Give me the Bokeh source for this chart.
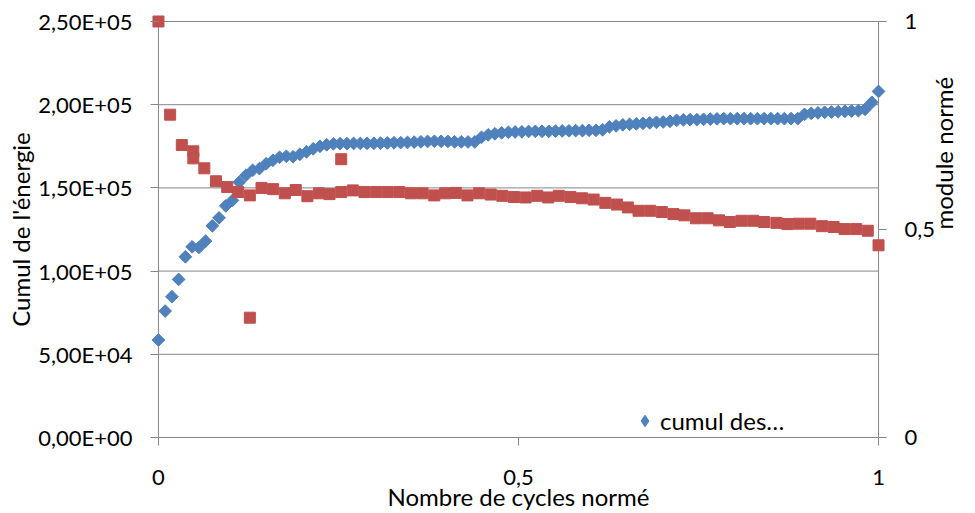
import math
from bokeh.plotting import figure
from bokeh.models import Range1d, LinearAxis, FixedTicker, Legend, LegendItem
from bokeh.embed import file_html
from bokeh.resources import INLINE

# ---------------- data ----------------
left_ticks = [0, 50000, 100000, 150000, 200000, 250000]
left_labels = ["0,00E+00", "5,00E+04", "1,00E+05", "1,50E+05", "2,00E+05", "2,50E+05"]
right_ticks = [0, 0.5, 1]
right_labels = ["0", "0,5", "1"]
x_ticks = [0, 0.5, 1]
x_labels = ["0", "0,5", "1"]

blue_name = "cumul des…"
x_title = "Nombre de cycles normé"
left_title = "Cumul de l'énergie"
right_title = "module normé"

blue_x = [0.0, 0.0093, 0.0187, 0.0280, 0.0374, 0.0467, 0.0561, 0.0654, 0.0748, 0.0841,
          0.0935, 0.1028, 0.1121, 0.1215, 0.1308, 0.1402, 0.1495, 0.1589, 0.1682, 0.1776,
          0.1869, 0.1963, 0.2056, 0.2150, 0.2243, 0.2336, 0.2430, 0.2523, 0.2617, 0.2710,
          0.2804, 0.2897, 0.2991, 0.3084, 0.3178, 0.3271, 0.3364, 0.3458, 0.3551, 0.3645,
          0.3738, 0.3832, 0.3925, 0.4019, 0.4112, 0.4206, 0.4299, 0.4393, 0.4486, 0.4579,
          0.4673, 0.4766, 0.4860, 0.4953, 0.5047, 0.5140, 0.5234, 0.5327, 0.5421, 0.5514,
          0.5607, 0.5701, 0.5794, 0.5888, 0.5981, 0.6075, 0.6168, 0.6262, 0.6355, 0.6449,
          0.6542, 0.6636, 0.6729, 0.6822, 0.6916, 0.7009, 0.7103, 0.7196, 0.7290, 0.7383,
          0.7477, 0.7570, 0.7664, 0.7757, 0.7850, 0.7944, 0.8037, 0.8131, 0.8224, 0.8318,
          0.8411, 0.8505, 0.8598, 0.8692, 0.8785, 0.8879, 0.8972, 0.9065, 0.9159, 0.9252,
          0.9346, 0.9439, 0.9533, 0.9626, 0.9720, 0.9813, 0.9907, 1.0]
blue_y = [58600, 76000, 84600, 95000, 108600, 114600, 114200, 118000, 127200, 132000,
          139200, 142500, 153400, 157600, 160600, 161600, 164500, 166600, 168400, 169000,
          168700, 170200, 171700, 173500, 175000, 175900, 176500, 176600, 176600, 176700,
          176700, 176800, 176800, 176900, 177000, 177100, 177200, 177300, 177500, 177700,
          177900, 178000, 178000, 177900, 177700, 177700, 177600, 177600, 180400, 181900,
          182500, 183100, 183400, 183600, 183700, 183900, 184000, 184000, 184000, 184100,
          184200, 184300, 184400, 184400, 184600, 184600, 184900, 186700, 187300, 187900,
          188200, 188500, 188800, 189100, 189400, 189600, 190000, 190600, 190900, 191000,
          191000, 191200, 191300, 191500, 191600, 191600, 191600, 191600, 191600, 191600,
          191600, 191600, 191600, 191600, 191600, 191600, 194200, 194800, 195100, 195400,
          195600, 195800, 196000, 196200, 196400, 197200, 201400, 208000]

red_x = [0.0, 0.0162, 0.0324, 0.0484, 0.0484, 0.0637, 0.0799, 0.0955, 0.1107, 0.1269,
         0.1269, 0.1431, 0.1592, 0.1754, 0.1906, 0.2068, 0.2228, 0.2376, 0.2538, 0.2538,
         0.2699, 0.2861, 0.3023, 0.3183, 0.3345, 0.3507, 0.3668, 0.3830, 0.3982, 0.4130,
         0.4291, 0.4453, 0.4614, 0.4775, 0.4937, 0.5099, 0.5260, 0.5412, 0.5560, 0.5722,
         0.5882, 0.6044, 0.6206, 0.6367, 0.6519, 0.6667, 0.6829, 0.6990, 0.7152, 0.7304,
         0.7466, 0.7626, 0.7784, 0.7936, 0.8097, 0.8259, 0.8411, 0.8581, 0.8734, 0.8891,
         0.9052, 0.9214, 0.9376, 0.9528, 0.9689, 0.9851, 1.0]
red_y = [1.000, 0.776, 0.703, 0.688, 0.671, 0.647, 0.616, 0.602, 0.590, 0.582,
         0.288, 0.600, 0.597, 0.587, 0.595, 0.580, 0.587, 0.585, 0.669, 0.590,
         0.594, 0.590, 0.590, 0.590, 0.590, 0.587, 0.587, 0.582, 0.587, 0.588,
         0.582, 0.587, 0.584, 0.581, 0.578, 0.577, 0.581, 0.577, 0.581, 0.578,
         0.575, 0.572, 0.564, 0.560, 0.553, 0.545, 0.545, 0.542, 0.537, 0.534,
         0.527, 0.527, 0.522, 0.518, 0.521, 0.521, 0.518, 0.516, 0.513, 0.514,
         0.514, 0.508, 0.506, 0.501, 0.501, 0.497, 0.462]

# ---------------- styling / layout ----------------
FONT = "Lato"
TICK_FS = "22px"
TITLE_FS = "24px"
TXT = "#000000"
GRID = "#868686"
BLUE = "#4F81BD"
RED = "#C0504D"

W, H = 975, 513
BL, BT = 150, 13
FW, FH = 739, 433
BR = W - BL - FW
BB = H - BT - FH
PADPX = 8  # tick marks sit in this padding band

x0, x1 = x_ticks[0], x_ticks[-1]
y0, y1 = left_ticks[0], left_ticks[-1]
r0, r1 = right_ticks[0], right_ticks[-1]
xpad = PADPX * (x1 - x0) / (FW - 2 * PADPX)
ypad = PADPX * (y1 - y0) / (FH - 2 * PADPX)
rpad = PADPX * (r1 - r0) / (FH - 2 * PADPX)

p = figure(width=W, height=H, output_backend="svg", toolbar_location=None,
           x_range=Range1d(x0 - xpad, x1 + xpad),
           y_range=Range1d(y0 - ypad, y1 + ypad),
           min_border_left=BL, min_border_right=BR,
           min_border_top=BT, min_border_bottom=BB)
p.outline_line_color = None
p.xgrid.visible = False
p.ygrid.visible = False
p.background_fill_color = "white"
p.border_fill_color = "white"
p.extra_y_ranges = {"mod": Range1d(r0 - rpad, r1 + rpad)}


def style_axis(ax, ticks, labels, standoff, title, title_standoff):
    ax.ticker = FixedTicker(ticks=ticks)
    ax.major_label_overrides = {t: l for t, l in zip(ticks, labels)}
    ax.axis_line_color = None
    ax.major_tick_in = PADPX
    ax.major_tick_out = 0
    ax.major_tick_line_color = GRID
    ax.major_tick_line_width = 1
    ax.minor_tick_line_color = None
    ax.major_label_text_font = FONT
    ax.major_label_text_font_size = TICK_FS
    ax.major_label_text_color = TXT
    ax.major_label_standoff = standoff
    ax.axis_label = title
    ax.axis_label_text_font = FONT
    ax.axis_label_text_font_size = TITLE_FS
    ax.axis_label_text_font_style = "normal"
    ax.axis_label_text_color = TXT
    ax.axis_label_standoff = title_standoff


style_axis(p.yaxis[0], left_ticks, left_labels, 18, left_title, 0)
style_axis(p.xaxis[0], x_ticks, x_labels, 24, x_title, -6)
raxis = LinearAxis(y_range_name="mod")
style_axis(raxis, right_ticks, right_labels, 18, right_title, 5)
try:
    raxis.axis_label_orientation = math.pi / 2  # read bottom-to-top like the left title
    raxis.axis_label_text_baseline = "top"
except Exception:
    pass
p.add_layout(raxis, "right")

# horizontal gridlines (plot area only) and the two vertical axis lines
p.segment(x0=[x0] * len(left_ticks), x1=[x1] * len(left_ticks),
          y0=left_ticks, y1=left_ticks, line_color=GRID, line_width=1)
p.segment(x0=[x0, x1], x1=[x0, x1], y0=[y0, y0], y1=[y1, y1],
          line_color=GRID, line_width=1)

blue_r = p.scatter(blue_x, blue_y, marker="square", angle=math.pi / 4, size=9,
                   fill_color=BLUE, line_color=BLUE, line_width=1)
red_r = p.scatter(red_x, red_y, marker="square", size=11, y_range_name="mod",
                  fill_color=RED, line_color=RED, line_width=1)

# hidden twin of the blue series, used only to draw the legend's diamond key
key_r = p.scatter(blue_x, blue_y, marker="diamond", fill_color=BLUE,
                  line_color=BLUE, line_width=1, visible=False)

legend = Legend(items=[LegendItem(label=blue_name, renderers=[key_r])],
                location=(480, 10), orientation="vertical",
                border_line_color=None, background_fill_alpha=0,
                inactive_fill_alpha=0,
                padding=0, margin=0, spacing=0,
                glyph_width=29, glyph_height=29, label_height=29,
                label_standoff=1, label_text_font=FONT,
                label_text_font_size=TITLE_FS, label_text_color=TXT)
p.add_layout(legend)

open("out.html", "w").write(file_html(p, INLINE))
